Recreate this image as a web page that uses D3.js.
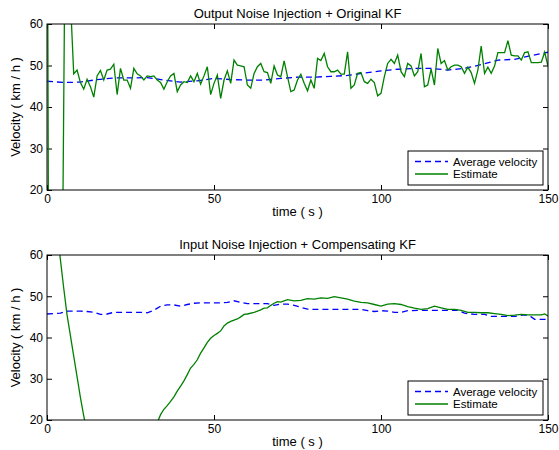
<!DOCTYPE html>
<html>
<head>
<meta charset="utf-8">
<script src="https://cdn.jsdelivr.net/npm/d3@7"></script>
<style>
  body { margin: 0; background: #fff; }
  text { font-family: "Liberation Sans", Arial, sans-serif; fill: #000; }
</style>
</head>
<body>
<div id="chart"></div>
<script>
// top panel: estimate sampled every second (index = time in s)
var topEstimate = [
  130, -150, -140, -110, -60, 40, 140, 66, 48.0, 48.9,
  45.9, 44.3, 46.7, 44.9, 42.4, 47.5, 48.8, 46.5, 48.9, 49.1,
  50.3, 43.0, 49.3, 46.5, 46.5, 44.5, 49.3, 48.0, 47.5, 46.5,
  47.5, 47.3, 47.5, 46.5, 45.9, 44.3, 46.1, 47.5, 48.1, 43.7,
  45.3, 46.1, 45.9, 47.5, 46.1, 48.1, 45.5, 47.5, 49.7, 43.0,
  45.7, 47.7, 42.1, 46.5, 48.7, 45.7, 51.3, 50.1, 49.9, 49.7,
  45.3, 44.5, 48.1, 49.7, 50.5, 48.5, 48.3, 45.7, 49.9, 47.7,
  47.3, 51.1, 47.3, 43.7, 44.1, 46.5, 47.9, 45.7, 43.9, 46.5,
  44.5, 51.7, 51.2, 52.9, 49.7, 48.5, 48.5, 48.9, 47.9, 47.9,
  53.3, 44.5, 45.3, 48.1, 48.3, 46.1, 45.7, 46.7, 45.9, 42.7,
  43.3, 47.3, 50.5, 51.5, 50.5, 52.5, 48.5, 47.3, 50.5, 49.9,
  47.5, 48.5, 52.9, 44.9, 45.3, 49.1, 45.3, 54.1, 50.5, 51.2,
  48.9, 49.7, 50.1, 50.1, 49.7, 48.1, 49.6, 48.3, 45.7, 48.9,
  54.7, 48.1, 49.6, 48.1, 49.9, 53.1, 53.1, 53.1, 56.0, 52.5,
  52.3, 52.3, 51.3, 53.1, 53.3, 50.7, 50.7, 50.7, 50.8, 53.2,
  49.8
];

var topAvgTime = [0, 5, 10, 15, 20, 25, 30, 35, 40, 45, 50, 55, 60, 65, 70, 75,
  80, 85, 90, 95, 100, 105, 110, 115, 120, 125, 130, 135, 140, 145, 150];
var topAvg = [46.2, 45.9, 46.0, 46.6, 47.0, 47.0, 47.1, 46.5, 46.0, 46.3, 46.9, 46.6,
  46.5, 46.5, 46.9, 47.2, 47.2, 47.4, 47.6, 48.2, 48.7, 49.1, 49.3, 49.3, 48.9,
  49.3, 50.2, 51.3, 51.5, 52.4, 53.2];

// bottom panel
var botEstTime = [0, 2, 3, 4, 5, 6, 7, 8, 9, 10, 11, 12, 14, 16, 18, 20, 22, 24, 26, 28,
  30, 32, 33, 34, 35, 36, 37, 38, 39, 40, 41, 42, 43, 44, 45, 46, 47, 48, 49, 50,
  51, 52, 53, 54, 55, 56, 57, 58, 59, 60, 62, 64, 65, 66, 67, 68, 69, 70, 72, 74,
  76, 78, 80, 82, 84, 86, 88, 90, 92, 94, 96, 98, 100, 102, 104, 106, 108, 110, 112, 114,
  116, 118, 120, 122, 124, 126, 128, 130, 132, 134, 136, 138, 140, 142, 144, 146, 148, 149, 150];
var botEst = [90, 72, 65.5, 59, 52, 45.5, 40.5, 35.5, 30.5, 25.5, 21, 17, 10, 5, 1.5, 0, 0, 2, 5, 8.5,
  12.5, 17, 19.3, 21.3, 22.6, 23.5, 24.5, 25.6, 27, 28.2, 29.5, 31, 32.6, 33.5, 34.6, 36.2, 37.5, 38.8, 39.8, 40.5,
  41, 41.6, 42.8, 43.5, 43.9, 44.2, 44.5, 45, 45.6, 45.7, 46.1, 46.7, 47.1, 47.2, 47.8, 48.3, 48.7, 48.6, 49.2, 48.9,
  49.0, 49.4, 49.3, 49.6, 49.5, 49.9, 49.6, 49.3, 48.8, 48.5, 48.4, 48.0, 47.6, 48.1, 48.2, 48.0, 47.5, 47.1, 46.8, 47.0,
  47.6, 47.2, 46.8, 46.8, 46.6, 46.1, 46.1, 46.0, 46.0, 45.8, 45.6, 45.3, 45.4, 45.6, 45.5, 45.5, 45.5, 45.7, 45.2];

var botAvgTime = [0, 2, 4, 6, 8, 10, 12, 14, 16, 18, 20, 22, 24, 26, 28, 30, 32, 34, 36, 38,
  40, 42, 44, 46, 48, 50, 52, 54, 56, 58, 60, 62, 64, 66, 68, 70, 72, 74, 76, 78,
  80, 84, 88, 92, 94, 96, 98, 100, 102, 104, 106, 108, 112, 116, 120, 123, 125, 128, 131, 133,
  136, 140, 143, 145, 146, 150];
var botAvg = [45.7, 45.8, 45.9, 46.4, 46.4, 46.4, 46.3, 46.1, 45.6, 45.7, 46.1, 46.1, 46.1, 46.1, 46.1, 46.0, 46.6, 47.6, 47.9, 47.9,
  47.6, 48.0, 48.3, 48.4, 48.4, 48.4, 48.4, 48.5, 48.9, 48.5, 48.2, 48.2, 48.2, 48.2, 47.8, 48.1, 48.1, 47.8, 47.3, 46.9,
  46.8, 46.8, 46.8, 46.8, 46.8, 46.5, 46.3, 46.5, 46.4, 46.1, 46.1, 46.5, 46.6, 46.6, 46.6, 46.6, 45.9, 45.6, 45.6, 45.1,
  45.1, 45.1, 45.5, 45.0, 44.4, 44.4];

var xTicks = [0, 50, 100, 150];
var yTicks = [20, 30, 40, 50, 60];
var legendLabels = ["Average velocity", "Estimate"];
var yLabel = "Velocity ( km / h )";
var xLabel = "time ( s )";

var svgWidth = 559;
var svgHeight = 450;

var svg = d3.select("#chart")
  .append("svg")
  .attr("width", svgWidth)
  .attr("height", svgHeight);

svg.append("rect")
  .attr("width", svgWidth)
  .attr("height", svgHeight)
  .attr("fill", "#fff");

var panels = [
  {
    title: "Output Noise Injection + Original KF",
    top: 24, bottom: 190,
    avg: topAvgTime.map(function (t, i) { return [t, topAvg[i]]; }),
    est: topEstimate.map(function (v, i) { return [i, v]; })
  },
  {
    title: "Input Noise Injection + Compensating KF",
    top: 255, bottom: 420,
    avg: botAvgTime.map(function (t, i) { return [t, botAvg[i]]; }),
    est: botEstTime.map(function (t, i) { return [t, botEst[i]]; })
  }
];

var left = 47, right = 548;
var blue = "#0000ff", green = "#008000";

panels.forEach(function (p, k) {
  var x = d3.scaleLinear().domain([0, 150]).range([left, right]);
  var y = d3.scaleLinear().domain([20, 60]).range([p.bottom, p.top]);
  var h = p.bottom - p.top;

  var g = svg.append("g");

  g.append("clipPath")
    .attr("id", "clip" + k)
    .append("rect")
    .attr("x", left)
    .attr("y", p.top)
    .attr("width", right - left)
    .attr("height", h);

  // ticks pointing inward on all four sides
  g.append("g")
    .attr("transform", `translate(0, ${p.bottom})`)
    .call(d3.axisBottom(x).tickValues(xTicks).tickSizeInner(-5).tickSizeOuter(0).tickPadding(4))
    .call(function (a) { a.select(".domain").remove(); });
  g.append("g")
    .attr("transform", `translate(0, ${p.top})`)
    .call(d3.axisTop(x).tickValues(xTicks).tickSizeInner(-5).tickSizeOuter(0).tickFormat(""))
    .call(function (a) { a.select(".domain").remove(); });
  g.append("g")
    .attr("transform", `translate(${left}, 0)`)
    .call(d3.axisLeft(y).tickValues(yTicks).tickSizeInner(-5).tickSizeOuter(0).tickPadding(4))
    .call(function (a) { a.select(".domain").remove(); });
  g.append("g")
    .attr("transform", `translate(${right}, 0)`)
    .call(d3.axisRight(y).tickValues(yTicks).tickSizeInner(-5).tickSizeOuter(0).tickFormat(""))
    .call(function (a) { a.select(".domain").remove(); });

  g.selectAll(".tick text")
    .style("font-family", "'Liberation Sans', Arial, sans-serif")
    .style("font-size", "12px")
    .attr("fill", "#000");
  g.selectAll(".tick line").attr("stroke", "#000");

  var line = d3.line()
    .x(function (d) { return x(d[0]); })
    .y(function (d) { return y(d[1]); });

  var lines = g.append("g").attr("clip-path", `url(#clip${k})`);

  lines.append("path")
    .datum(p.avg)
    .attr("d", line)
    .attr("fill", "none")
    .attr("stroke", blue)
    .attr("stroke-width", 1.3)
    .attr("stroke-dasharray", "6,4");

  lines.append("path")
    .datum(p.est)
    .attr("d", line)
    .attr("fill", "none")
    .attr("stroke", green)
    .attr("stroke-width", 1.3);

  g.append("rect")
    .attr("x", left)
    .attr("y", p.top)
    .attr("width", right - left)
    .attr("height", h)
    .attr("fill", "none")
    .attr("stroke", "#000")
    .attr("stroke-width", 1);

  g.append("text")
    .attr("x", (left + right) / 2)
    .attr("y", p.top - 6)
    .attr("text-anchor", "middle")
    .style("font-size", "13px")
    .text(p.title);

  g.append("text")
    .attr("x", (left + right) / 2)
    .attr("y", p.bottom + 26)
    .attr("text-anchor", "middle")
    .style("font-size", "13px")
    .text(xLabel);

  g.append("text")
    .attr("transform", `translate(20, ${(p.top + p.bottom) / 2}) rotate(-90)`)
    .attr("text-anchor", "middle")
    .style("font-size", "13px")
    .text(yLabel);

  // legend
  var lg = g.append("g")
    .attr("transform", `translate(408, ${p.bottom - 39})`);
  lg.append("rect")
    .attr("width", 135)
    .attr("height", 34)
    .attr("fill", "#fff")
    .attr("stroke", "#000")
    .attr("stroke-width", 1);
  [blue, green].forEach(function (c, i) {
    lg.append("line")
      .attr("x1", 7).attr("x2", 40)
      .attr("y1", 10.5 + i * 12.5).attr("y2", 10.5 + i * 12.5)
      .attr("stroke", c)
      .attr("stroke-width", 1.3)
      .attr("stroke-dasharray", i === 0 ? "6,4" : null);
    lg.append("text")
      .attr("x", 45)
      .attr("y", 14.5 + i * 12.5)
      .style("font-size", "11.5px")
      .text(legendLabels[i]);
  });
});
</script>
</body>
</html>
